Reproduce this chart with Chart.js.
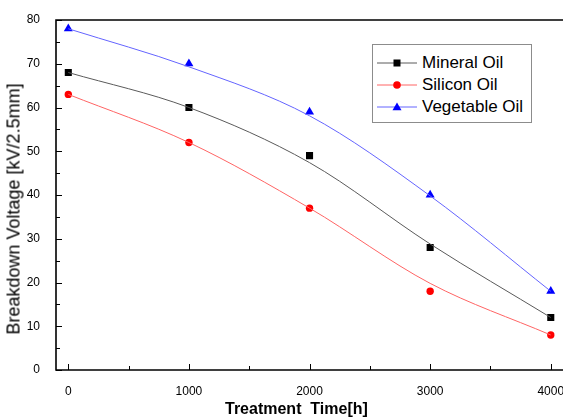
<!DOCTYPE html>
<html>
<head>
<meta charset="utf-8">
<script src="https://cdn.jsdelivr.net/npm/chart.js@4.4.1/dist/chart.umd.min.js"></script>
<style>
  html, body { margin: 0; padding: 0; background: #fff; }
  #wrap { position: relative; width: 563px; height: 418px; overflow: hidden; font-family: "Liberation Sans", Arial, sans-serif; }
  #c { position: absolute; left: 0; top: 0; }
  .ytitle { position: absolute; left: 14px; top: 209px; transform: translate(-50%, -50%) rotate(-90deg); font-size: 18px; white-space: nowrap; color: #000; }
  .xtitle { position: absolute; left: 225px; top: 400px; font-size: 16px; font-weight: bold; white-space: pre; color: #000; }
  #legend { position: absolute; left: 372px; top: 44px; width: 158px; height: 77px; border: 1px solid #8c8c8c; background: #fff; }
  .row { position: absolute; left: 0; height: 22px; width: 158px; }
  .row svg { position: absolute; left: 4px; top: 0; }
  .row span { position: absolute; left: 49px; top: 1px; font-size: 17px; line-height: 20px; color: #000; white-space: nowrap; }
</style>
</head>
<body>
<div id="wrap">
  <canvas id="c" width="600" height="418"></canvas>
  <div class="ytitle">Breakdown Voltage [kV/2.5mm]</div>
  <div class="xtitle">Treatment  Time[h]</div>
  <div id="legend"></div>
</div>
<script>
// treatment time [h]
var times = [0, 1000, 2000, 3000, 4000];
var xTicks = [0, 1000, 2000, 3000, 4000];
var yTicks = [0, 10, 20, 30, 40, 50, 60, 70, 80];

// measured breakdown voltage
var mineral = [68, 60, 49, 28, 12];
var silicon = [63, 52, 37, 18, 8];
var vegetable = [78, 70, 59, 40, 18];

// fitted curves
var mineralFit = [68, 60, 47.4, 28.8, 12];
var siliconFit = [63, 52, 37, 19.8, 8];
var vegetableFit = [78, 69.3, 58.1, 39.8, 18];

var names = ['Mineral Oil', 'Silicon Oil', 'Vegetable Oil'];
var markColors = ['#000000', '#ff0000', '#0000ff'];
var lineColors = ['#5a5a5a', '#ff6464', '#6464ff'];
var shapes = ['rect', 'circle', 'triangle'];
var sizes = [5, 3.7, 5.2];

function pts(ys) {
  return times.map(function(t, i) { return {x: t, y: ys[i]}; });
}

var fits = [mineralFit, siliconFit, vegetableFit];
var meas = [mineral, silicon, vegetable];
var datasets = [];
for (var i = 0; i < 3; i++) {
  datasets.push({
    label: names[i] + ' fit',
    data: pts(fits[i]),
    borderColor: lineColors[i],
    borderWidth: 1,
    pointRadius: 0,
    fill: false,
    cubicInterpolationMode: 'monotone'
  });
}
for (var j = 0; j < 3; j++) {
  datasets.push({
    label: names[j],
    data: pts(meas[j]),
    showLine: false,
    pointStyle: shapes[j],
    pointRadius: sizes[j],
    pointBackgroundColor: markColors[j],
    pointBorderColor: markColors[j],
    pointBorderWidth: 0
  });
}

// axes frame with inward ticks
var framePlugin = {
  id: 'frame',
  afterDraw: function(chart) {
    var ctx = chart.ctx, a = chart.chartArea;
    var xs = chart.scales.x, ys = chart.scales.y;
    ctx.save();
    ctx.strokeStyle = '#000';
    ctx.lineWidth = 1;
    ctx.beginPath();
    for (var v = 0; v <= 80; v += 5) {
      var py = Math.round(ys.getPixelForValue(v)) + 0.5;
      var len = (v % 10 === 0) ? 6 : 4;
      ctx.moveTo(a.left, py); ctx.lineTo(a.left + len, py);
    }
    for (var t = 0; t <= 4000; t += 500) {
      var px = Math.round(xs.getPixelForValue(t)) + 0.5;
      var l2 = (t % 1000 === 0) ? 6 : 4;
      ctx.moveTo(px, a.bottom); ctx.lineTo(px, a.bottom - l2);
    }
    ctx.stroke();
    ctx.lineWidth = 1.6;
    ctx.beginPath();
    ctx.moveTo(a.right, a.top);
    ctx.lineTo(a.left, a.top);
    ctx.lineTo(a.left, a.bottom);
    ctx.lineTo(a.right, a.bottom);
    ctx.stroke();
    ctx.restore();
  }
};

new Chart(document.getElementById('c'), {
  type: 'line',
  data: { datasets: datasets },
  plugins: [framePlugin],
  options: {
    responsive: false,
    animation: false,
    layout: { padding: { top: 20, left: 0, right: 0, bottom: 0 } },
    plugins: { legend: { display: false }, tooltip: { enabled: false } },
    scales: {
      x: {
        type: 'linear',
        min: -102,
        max: 4365,
        afterBuildTicks: function(s) { s.ticks = xTicks.map(function(v) { return {value: v}; }); },
        afterFit: function(s) { s.height = 48; },
        grid: { display: false },
        border: { display: false },
        ticks: {
          padding: 6, color: '#000', maxRotation: 0,
          font: { family: 'Liberation Sans', size: 12 },
          callback: function(v) { return String(v); }
        }
      },
      y: {
        min: 0,
        max: 80,
        afterBuildTicks: function(s) { s.ticks = yTicks.map(function(v) { return {value: v}; }); },
        afterFit: function(s) { s.width = 56; },
        grid: { display: false },
        border: { display: false },
        ticks: { padding: 8, color: '#000', font: { family: 'Liberation Sans', size: 12 } }
      }
    }
  }
});

// legend: line with marker in the middle, then the name
var leg = document.getElementById('legend');
var rowTops = [7, 29, 51];
for (var k = 0; k < 3; k++) {
  var mark;
  if (k === 0) mark = '<rect x="16.5" y="7.5" width="7" height="7" fill="#000"/>';
  else if (k === 1) mark = '<circle cx="20" cy="11" r="3.8" fill="#ff0000"/>';
  else mark = '<polygon points="20,6.5 24.5,14.3 15.5,14.3" fill="#0000ff"/>';
  var row = document.createElement('div');
  row.className = 'row';
  row.style.top = rowTops[k] + 'px';
  row.innerHTML = '<svg width="42" height="22"><line x1="0" y1="11" x2="40" y2="11" stroke="' + lineColors[k] + '" stroke-width="1"/>' + mark + '</svg><span>' + names[k] + '</span>';
  leg.appendChild(row);
}
</script>
</body>
</html>
